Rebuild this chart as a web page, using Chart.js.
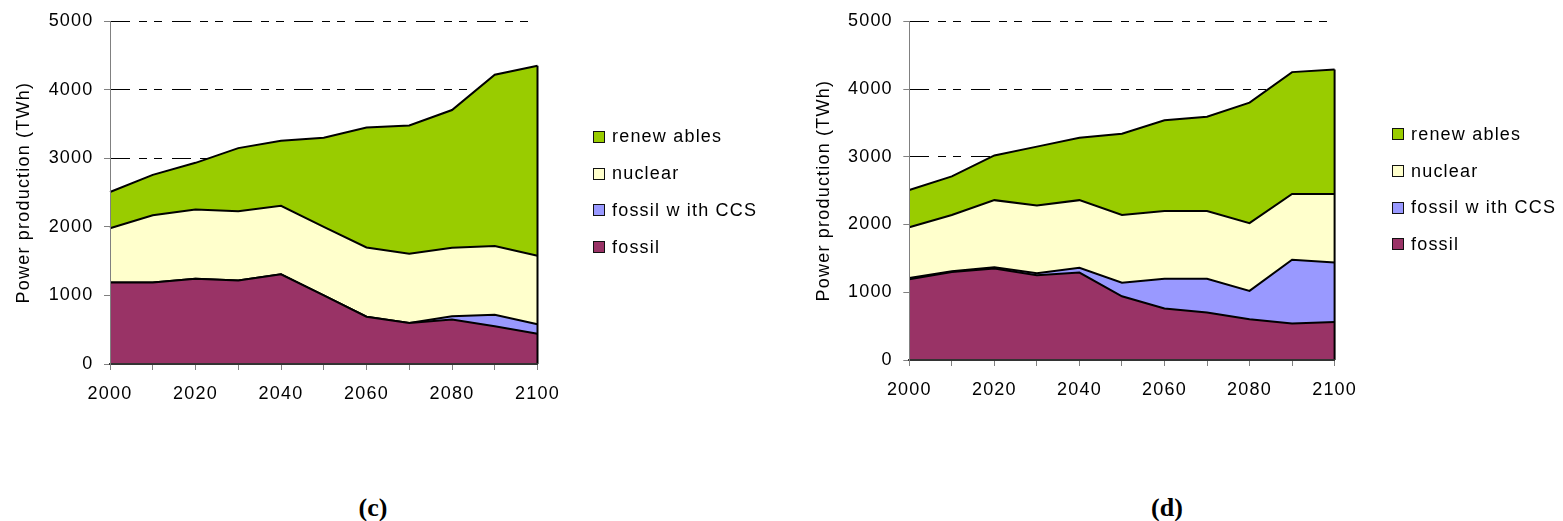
<!DOCTYPE html>
<html>
<head>
<meta charset="utf-8">
<title>Power production scenarios</title>
<script src="https://cdn.jsdelivr.net/npm/chart.js@4.4.1/dist/chart.umd.min.js"></script>
<style>
  html, body { margin: 0; padding: 0; background: #fff; }
  body { position: relative; width: 1563px; height: 521px; overflow: hidden;
         font-family: "Liberation Sans", Arial, sans-serif; color: #000; }
  .panel { position: absolute; top: 0; width: 600px; height: 420px; }
  .panel canvas { position: absolute; left: 0; top: 0; }
  .legend { position: absolute; }
  .legend .row { display: flex; align-items: center; height: 36.7px; }
  .legend .box { width: 10px; height: 10px; border: 1.5px solid #111; }
  .legend .txt { margin-left: 7.3px; font-size: 18px; letter-spacing: 1.2px; white-space: pre; }
  .caption { position: absolute; width: 100px; text-align: center; line-height: 30px;
             font-family: "Liberation Serif", "Times New Roman", serif; font-weight: bold; font-size: 26px; }
</style>
</head>
<body>
<div class="panel" id="panelC" style="left:0px"><canvas id="chartC" width="600" height="420"></canvas></div>
<div class="panel" id="panelD" style="left:800px"><canvas id="chartD" width="600" height="420"></canvas></div>
<div class="legend" id="legendC" style="left:592.7px; top:118.6px"></div>
<div class="legend" id="legendD" style="left:1391.7px; top:116px"></div>
<div class="caption" style="left:323px; top:493px">(c)</div>
<div class="caption" style="left:1117px; top:493px">(d)</div>

<script>
// Years on the horizontal axis (one point per decade)
const years = [2000, 2010, 2020, 2030, 2040, 2050, 2060, 2070, 2080, 2090, 2100];

// Y axis range and step (TWh)
const yMin = 0;
const yMax = 5000;
const yStep = 1000;

// Series names as shown in the legend and their fill colours
const seriesNames = ['fossil', 'fossil w ith CCS', 'nuclear', 'renew ables'];
const seriesColors = ['#993366', '#9999FF', '#FFFFCC', '#99CC00'];

// Scenario (c): power production per source, TWh (stacked)
const fossilC     = [1190, 1190, 1245, 1220, 1308, 1000, 690, 600, 650, 550, 440];
const ccsC        = [0, 0, 0, 0, 0, 0, 0, 0, 45, 170, 140];
const nuclearC    = [790, 980, 1010, 1010, 1000, 1000, 1010, 1010, 1000, 1000, 1000];
const renewablesC = [530, 590, 680, 920, 950, 1300, 1750, 1870, 2010, 2500, 2770];

// Scenario (d): power production per source, TWh (stacked)
const fossilD     = [1190, 1300, 1350, 1250, 1290, 940, 760, 700, 600, 540, 560];
const ccsD        = [20, 10, 20, 30, 70, 200, 440, 500, 420, 940, 880];
const nuclearD    = [750, 830, 990, 1000, 1000, 1000, 1000, 1000, 1000, 970, 1010];
const renewablesD = [550, 570, 660, 870, 920, 1200, 1340, 1390, 1780, 1800, 1840];

const FONT = '"Liberation Sans", Arial, sans-serif';

// Slightly wider text spacing on the canvas labels
const textSpacing = {
  id: 'textSpacing',
  beforeUpdate(chart) { chart.ctx.letterSpacing = '1.2px'; },
  beforeDraw(chart) { chart.ctx.letterSpacing = '1.2px'; }
};

// Closes the stacked area on the right with a vertical outline at the last year
const rightEdge = {
  id: 'rightEdge',
  afterDatasetsDraw(chart) {
    const n = chart.data.datasets.length;
    const topMeta = chart.getDatasetMeta(n - 1);
    const last = topMeta.data[topMeta.data.length - 1];
    if (!last) return;
    const y0 = chart.scales.y.getPixelForValue(0);
    const ctx = chart.ctx;
    ctx.save();
    ctx.strokeStyle = '#000';
    ctx.lineWidth = 2;
    ctx.beginPath();
    ctx.moveTo(last.x, y0);
    ctx.lineTo(last.x, last.y);
    ctx.stroke();
    ctx.restore();
  }
};

function buildDatasets(seriesValues) {
  return seriesValues.map((vals, i) => ({
    label: seriesNames[i],
    data: vals,
    backgroundColor: seriesColors[i],
    borderColor: '#000',
    borderWidth: 2,
    pointRadius: 0,
    pointHoverRadius: 0,
    tension: 0,
    fill: i === 0 ? 'origin' : '-1'
  }));
}

function makeChart(canvasId, seriesValues, frame) {
  const ctx = document.getElementById(canvasId);
  return new Chart(ctx, {
    type: 'line',
    data: { labels: years, datasets: buildDatasets(seriesValues) },
    plugins: [textSpacing, rightEdge],
    options: {
      responsive: false,
      animation: false,
      devicePixelRatio: 1,
      layout: { padding: { left: 0, top: frame.top, right: frame.right, bottom: 0 } },
      plugins: {
        legend: { display: false },
        tooltip: { enabled: false },
        filler: { propagate: false }
      },
      scales: {
        x: {
          type: 'category',
          offset: false,
          afterFit(scale) { scale.height = frame.xHeight; },
          grid: {
            drawOnChartArea: false,
            drawTicks: true,
            tickLength: 6,
            tickColor: '#808080',
            tickWidth: 1,
            offset: false
          },
          border: { display: true, color: '#333', width: 2, z: 1 },
          ticks: {
            autoSkip: false,
            maxRotation: 0,
            minRotation: 0,
            padding: 13,
            color: '#000',
            font: { family: FONT, size: 18 },
            callback(value, index) { return years[index] % 20 === 0 ? String(years[index]) : ''; }
          }
        },
        y: {
          stacked: true,
          min: yMin,
          max: yMax,
          afterFit(scale) { scale.width = frame.yWidth; },
          grid: {
            drawOnChartArea: true,
            color: '#000',
            lineWidth: 1,
            drawTicks: true,
            tickLength: 6,
            tickColor: '#808080',
            tickWidth: 1,
            tickBorderDash: []
          },
          border: { display: true, color: '#808080', width: 1, z: 1, dash: [19, 9, 8, 7, 8, 10] },
          ticks: {
            stepSize: yStep,
            padding: 10.5,
            color: '#000',
            font: { family: FONT, size: 18 },
            callback(value) { return String(value); }
          },
          title: {
            display: true,
            text: 'Power production (TWh)',
            color: '#000',
            font: { family: FONT, size: 18, weight: 'normal' },
            padding: { top: 13, bottom: 0 }
          }
        }
      }
    }
  });
}

function buildLegend(elId) {
  const el = document.getElementById(elId);
  for (let i = seriesNames.length - 1; i >= 0; i--) {
    const row = document.createElement('div');
    row.className = 'row';
    const box = document.createElement('div');
    box.className = 'box';
    box.style.background = seriesColors[i];
    const txt = document.createElement('div');
    txt.className = 'txt';
    txt.textContent = seriesNames[i];
    row.appendChild(box);
    row.appendChild(txt);
    el.appendChild(row);
  }
}

makeChart('chartC', [fossilC, ccsC, nuclearC, renewablesC],
  { top: 20.7, right: 62.5, yWidth: 110, xHeight: 56 });
makeChart('chartD', [fossilD, ccsD, nuclearD, renewablesD],
  { top: 20, right: 65.4, yWidth: 109.3, xHeight: 60 });

buildLegend('legendC');
buildLegend('legendD');
</script>
</body>
</html>
